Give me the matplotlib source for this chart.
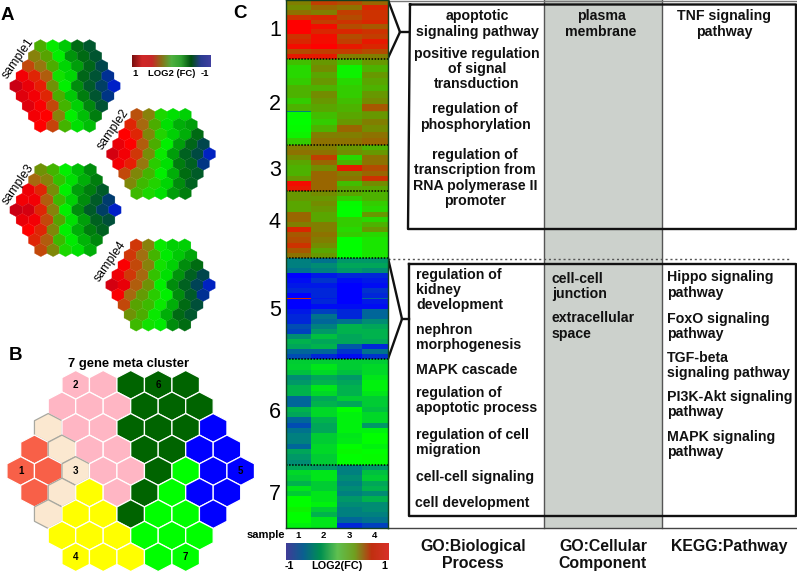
import matplotlib
matplotlib.use('Agg')
import matplotlib.pyplot as plt
import numpy as np
from matplotlib.collections import PolyCollection
from matplotlib.colors import LinearSegmentedColormap

plt.rcParams['font.family'] = ['Liberation Sans', 'DejaVu Sans']

# Panel A, hexagon values per map row
sample1 = [[.22, .02, -.12, -.42, -.58],
           [.35, .25, 0, -.28, -.42, -.6],
           [.5, .38, .22, -.08, -.25, -.45, -.72],
           [.75, .6, .45, .05, -.08, -.45, -.62, -.88],
           [.95, .8, .62, .3, 0, -.3, -.55, -.78, -1],
           [.85, .75, .6, .22, -.12, -.35, -.6, -.85],
           [.85, .72, .5, .2, -.1, -.32, -.62],
           [.75, .7, .35, 0, -.15, -.35],
           [.7, .52, .2, -.05, -.15]]
sample2 = [[.48, .35, .08, -.05, -.1],
           [.6, .42, .22, -.05, -.2, -.25],
           [.7, .6, .33, .1, -.1, -.2, -.42],
           [.8, .7, .45, .22, 0, -.25, -.45, -.72],
           [.9, .75, .55, .32, .03, -.25, -.5, -.7, -.98],
           [.75, .62, .38, .12, -.05, -.35, -.5, -.85],
           [.5, .33, .2, 0, -.2, -.4, -.55],
           [.33, .18, .1, -.08, -.3, -.5],
           [.18, .08, -.05, -.25, -.35]]
sample3 = [[.3, .2, 0, -.15, -.3],
           [.42, .35, .15, -.05, -.2, -.35],
           [.78, .6, .32, 0, -.25, -.35, -.55],
           [.75, .75, .45, .18, -.1, -.3, -.55, -.8],
           [.95, .9, .6, .35, 0, -.3, -.55, -.78, -1],
           [.8, .75, .5, .25, -.05, -.25, -.5, -.65],
           [.7, .6, .33, 0, -.2, -.35, -.5],
           [.6, .45, .18, -.02, -.18, -.32],
           [.5, .33, .08, -.05, -.2]]
sample4 = [[.55, .35, .02, -.1, -.1],
           [.55, .4, .2, -.02, -.12, -.22],
           [.72, .5, .35, .05, -.1, -.3, -.4],
           [.78, .55, .42, .15, -.05, -.28, -.5, -.72],
           [.9, .8, .45, .3, 0, -.3, -.5, -.75, -.98],
           [.72, .42, .28, .12, 0, -.3, -.55, -.88],
           [.5, .25, .18, .03, -.2, -.42, -.65],
           [.3, .22, .03, -.2, -.42, -.58],
           [.18, .05, -.02, -.3, -.4]]

# Panel B, cluster of each hexagon
meta = ['22666', '222666', '3226665', '13226655', '113226755',
        '13426755', '3446775', '444777', '44477']
meta_labels = {(0, 0): '2', (0, 3): '6', (4, 0): '1', (4, 2): '3', (4, 8): '5', (8, 0): '4', (8, 4): '7'}

# Panel C, heatmap rows per cluster (samples 1-4)
c1 = [[.5, .75, .7, .6], [.45, .6, .55, .85], [.55, .5, .75, .8], [.8, .85, .7, .8],
      [1, .75, .8, .85], [1, .95, .7, .65], [1, .85, .85, .8], [.8, .95, .7, .75],
      [.85, .95, .75, .9], [.95, 1, .9, .85], [.7, .75, .75, .7], [.9, .9, .5, .5]]
c2 = [[.25, .4, .25, .4], [.15, .45, .05, .3], [.15, .35, .05, .4], [.2, .4, .15, .35],
      [.3, .3, .2, .3], [.3, .45, .2, .4], [.2, .4, .25, .45], [.3, .35, .3, .65],
      [-.5, .35, .3, .45], [.02, .25, .35, .4], [0, .2, .4, .5], [.02, .3, .6, .45],
      [.05, .5, .5, .55], [.2, .55, .55, .6]]
c3 = [[.5, .5, .4, .3], [.55, .55, .45, .4], [.45, .75, .15, .55], [.35, .6, .3, .55],
      [.3, .45, .9, .7], [.3, .6, .5, .6], [.4, .6, .55, .8], [.95, .6, .25, .45],
      [.9, .6, .35, .35]]
c4 = [[.4, .45, .35, .3], [.4, .4, .2, .3], [.35, .45, .02, .2], [.35, .4, 0, .15],
      [.6, .35, 0, .4], [.6, .35, .2, .15], [.5, .5, .2, .3], [.85, .5, .15, .4],
      [.65, .55, .2, .15], [.7, .5, 0, .1], [.8, .45, 0, .1], [.65, .35, 0, .1],
      [.55, .4, 0, .1]]
c5 = [[-.5, -.55, -.4, -.4], [-.5, -.45, -.35, -.35], [-.55, -.5, -.4, -.45],
      [-1, -.9, -.85, -.85], [-.95, -.8, -.95, -.9], [-.9, -.9, -1, -.95],
      [-.85, -.85, -1, -.8], [-1, -.85, -1, -.85], [.8, -.9, -1, -.6],
      [-1, -.85, -1, -.9], [-1, -.95, -.95, -.95], [-.9, -.75, -.85, -.6],
      [-.85, -.55, -.85, -.6], [-.85, -.6, -.55, -.45], [-.7, -.5, -.3, -.35],
      [-.75, -.4, -.3, -.3], [-.45, -.25, -.35, -.3], [-.3, -.35, -.35, -.35],
      [-.35, -.3, -.65, -.85], [-.6, -.6, -.8, -.55], [-.7, -.85, -.95, -.8]]
c6 = [[-.2, -.2, -.2, -.2], [-.18, -.1, -.2, -.15], [-.25, -.15, -.25, -.15],
      [-.45, -.35, -.4, -.1], [-.4, -.3, -.35, -.05], [-.3, -.1, -.3, -.05],
      [-.3, -.15, -.3, -.1], [-.6, -.35, -.2, -.2], [-.6, -.3, -.35, -.2],
      [-.3, -.15, 0, -.25], [-.35, -.15, -.05, -.15], [-.6, -.3, -.05, -.15],
      [-.7, -.35, -.05, -.4], [-.55, -.35, -.05, -.05], [-.5, -.2, -.1, 0],
      [-.5, -.2, -.08, 0], [-.6, -.15, 0, -.05], [-.35, -.15, .03, 0],
      [-.4, -.2, 0, .02], [-.45, -.2, 0, 0]]
c7 = [[-.35, -.4, -.5, -.4], [-.15, -.1, -.5, -.25], [-.2, -.1, -.45, -.2],
      [-.3, -.2, -.5, -.35], [-.1, -.2, -.45, -.3], [-.2, -.1, -.5, -.45],
      [0, -.1, -.4, -.3], [0, -.05, -.45, -.45], [.05, -.2, -.5, -.45],
      [0, -.3, -.5, -.5], [0, -.1, -.6, -.55], [-.05, -.1, -.85, -.75]]
clusters = [c1, c2, c3, c4, c5, c6, c7]
cluster_px = [58.5, 86.5, 46, 67, 101, 106, 63]
# thin rows in the heatmap: (cluster, row) -> share of a normal row
thin_rows = {(1, 8): .3, (4, 8): .3}
cluster_names = ['1', '2', '3', '4', '5', '6', '7']
cluster_label_y = [30, 105, 170, 223, 310, 412, 495]
heat_samples = ['1', '2', '3', '4']

hex_cmap = LinearSegmentedColormap.from_list('hex', [
    (0.0, '#0020c8'), (0.15, '#004a40'), (0.3, '#006c10'), (0.5, '#00f000'),
    (0.62, '#50a800'), (0.7, '#a07010'), (0.85, '#ff0000'), (1.0, '#c00018')])
heat_cmap = LinearSegmentedColormap.from_list('heat', ['#0000ff', '#00ff00', '#ff0000'])
bar_a = LinearSegmentedColormap.from_list('bar_a', [
    '#7a1010', '#d02828', '#c82828', '#8a7018', '#50b040', '#30a030', '#005010', '#2a3c90', '#4040a0'])
bar_c = LinearSegmentedColormap.from_list('bar_c', [
    '#403c98', '#0a6090', '#009050', '#60c050', '#70a020', '#c03010', '#d83028'])
meta_colors = {'1': '#f86048', '2': '#ffb6c4', '3': '#fbe8d0', '4': '#ffff00',
               '5': '#0000ff', '6': '#006400', '7': '#00ff00'}
W, H = 797, 573

fig = plt.figure(figsize=(W / 100, H / 100), dpi=100)
ax = fig.add_axes([0, 0, 1, 1])
ax.set_xlim(0, W)
ax.set_ylim(H, 0)
ax.axis('off')


def hex_cells(rows, cx, cy, dx, dy):
    # centres come from the row lengths only, 9 rows with 5..9..5 cells
    verts = []
    r = dy / 1.5
    for i, row in enumerate(rows):
        y = cy + (i - 4) * dy
        for j in range(len(row)):
            x = cx + (j - (len(row) - 1) / 2) * dx
            verts.append([(x, y - r), (x + dx / 2, y - r / 2), (x + dx / 2, y + r / 2),
                          (x, y + r), (x - dx / 2, y + r / 2), (x - dx / 2, y - r / 2)])
    return verts


def draw_sample(vals, cx, cy, dx, dy):
    v = [x for row in vals for x in row]
    pc = PolyCollection(hex_cells(vals, cx, cy, dx, dy), array=np.array(v), cmap=hex_cmap,
                        clim=(-1, 1), edgecolors='face', linewidths=.2)
    ax.add_collection(pc)


# panel A
draw_sample(sample1, 65, 86, 12.25, 9.95)
draw_sample(sample2, 161, 154, 12.1, 9.8)
draw_sample(sample3, 65.5, 210, 12.35, 10)
draw_sample(sample4, 160.5, 285, 12.15, 9.9)
for s, x, y in [('sample1', 18, 58), ('sample2', 113, 129), ('sample3', 18.5, 184), ('sample4', 110.5, 261)]:
    ax.text(x, y, s, fontsize=8.8, rotation=55, ha='center', va='center', rotation_mode='anchor')
ax.imshow(np.linspace(0, 1, 200)[None, :], cmap=bar_a, extent=(132, 211, 67, 55), aspect='auto', zorder=2)
ax.text(135, 73.5, '1', fontsize=6.8, fontweight='bold', ha='center', va='center')
ax.text(172, 73.5, 'LOG2 (FC)', fontsize=6.8, fontweight='bold', ha='center', va='center')
ax.text(205, 73.5, '-1', fontsize=6.8, fontweight='bold', ha='center', va='center')

# panel B
cols = [meta_colors[c] for row in meta for c in row]
edges = ['#a8a8a0' if c == '3' else '#ffffff' for row in meta for c in row]
ax.add_collection(PolyCollection(hex_cells(meta, 130.7, 471, 27.5, 21.55), facecolors=cols,
                                 edgecolors=edges, linewidths=.9))
for (i, j), s in meta_labels.items():
    x = 130.7 + (j - (len(meta[i]) - 1) / 2) * 27.5
    ax.text(x, 471 + (i - 4) * 21.55, s, fontsize=7, fontweight='bold', ha='center', va='center')
ax.text(129, 364, '7 gene meta cluster', fontsize=9.4, fontweight='bold', ha='center', va='center')

# letters
ax.text(7, 16, 'A', fontsize=13.5, fontweight='bold', ha='center', va='center')
ax.text(16, 355, 'B', fontsize=13.5, fontweight='bold', ha='center', va='center')
ax.text(240, 14, 'C', fontsize=13.5, fontweight='bold', ha='center', va='center')

# grey column and frames behind the text
ax.fill_between([544, 662.5], 0, 527.5, color='#ccd1cc', lw=0, zorder=0)
for x in (544, 662.5):
    ax.plot([x, x], [0, 527.5], color='#555555', lw=1, zorder=1)
ax.plot([388, W], [527.5, 527.5], color='#444444', lw=1, zorder=1)
ax.plot([388, W], [.5, .5], color='#777777', lw=1, zorder=1)
ax.plot([388, 790], [258.5, 258.5], color='#555555', lw=1, ls=(0, (1.5, 2)), zorder=1)
ax.plot([410, 408, 796, 796, 410], [4.5, 229, 229, 4.5, 4.5], color='#111111', lw=1.7, zorder=3)
ax.plot([409, 409, 796, 796, 409], [264, 515.5, 515.5, 264, 264], color='#111111', lw=1.7, zorder=3)
ax.plot([388, 400, 388], [0, 32, 58], color='#111111', lw=1.7, zorder=3)
ax.plot([400, 408], [32, 32], color='#111111', lw=1.7, zorder=3)
ax.plot([388, 402, 388], [258, 319, 359], color='#111111', lw=1.7, zorder=3)
ax.plot([402, 409], [319, 319], color='#111111', lw=1.7, zorder=3)

# panel C heatmap
rows_all = [r for c in clusters for r in c]
edges_y = [0.0]
boundaries = []
for k, c in enumerate(clusters):
    weights = [thin_rows.get((k, i), 1) for i in range(len(c))]
    unit = cluster_px[k] / sum(weights)
    for w in weights:
        edges_y.append(edges_y[-1] + w * unit)
    boundaries.append(edges_y[-1])
heat_h = edges_y[-1]
ax_h = fig.add_axes([285.5 / W, 1 - heat_h / H, 102 / W, heat_h / H])
ax_h.pcolormesh(np.arange(5), edges_y, np.array(rows_all), cmap=heat_cmap, vmin=-1, vmax=1)
ax_h.set_ylim(heat_h, 0)
for b in boundaries[:-1]:
    ax_h.axhline(b, color='black', lw=1.1, ls=(0, (1, 1)))
ax_h.set_yticks([])
ax_h.set_xticks(np.arange(4) + .5, heat_samples, fontsize=6.8, fontweight='bold')
ax_h.tick_params(axis='x', length=0, pad=2.5)
for sp in ax_h.spines.values():
    sp.set_color('#14401e')
    sp.set_linewidth(1)
for name, y in zip(cluster_names, cluster_label_y):
    ax.text(275, y, name, fontsize=15.5, ha='center', va='center')
ax.text(266, 534.5, 'sample', fontsize=8, fontweight='bold', ha='center', va='center')

ax.imshow(np.linspace(0, 1, 200)[None, :], cmap=bar_c, extent=(286, 389, 560, 543), aspect='auto', zorder=2)
ax.text(289.5, 566, '-1', fontsize=7.8, fontweight='bold', ha='center', va='center')
ax.text(337, 566, 'LOG2(FC)', fontsize=7.8, fontweight='bold', ha='center', va='center')
ax.text(384, 566, '1', fontsize=7.8, fontweight='bold', ha='center', va='center')
ax.set_xlim(0, W)
ax.set_ylim(H, 0)

# enrichment text
center_terms = [('apoptotic\nsignaling pathway', 477, 24), ('positive regulation\nof signal\ntransduction', 477, 69),
                ('regulation of\nphosphorylation', 475, 117),
                ('regulation of\ntranscription from\nRNA polymerase II\npromoter', 475, 178),
                ('plasma\nmembrane', 601, 24), ('TNF signaling\npathway', 724, 24)]
left_terms = [('regulation of\nkidney\ndevelopment', 416, 290), ('nephron\nmorphogenesis', 416, 337.5),
              ('MAPK cascade', 416, 369.5), ('regulation of\napoptotic process', 416, 400.5),
              ('regulation of cell\nmigration', 416, 442.5), ('cell-cell signaling', 416, 476.5),
              ('cell development', 415.5, 503.5), ('cell-cell\njunction', 552, 286.5),
              ('extracellular\nspace', 552, 326), ('Hippo signaling\npathway', 667, 285),
              ('FoxO signaling\npathway', 667, 326.5), ('TGF-beta\nsignaling pathway', 667, 365.5),
              ('PI3K-Akt signaling\npathway', 667, 404.5), ('MAPK signaling\npathway', 667, 444.5)]
for s, x, y in center_terms:
    ax.text(x, y, s, fontsize=10.2, fontweight='bold', ha='center', va='center', linespacing=1.1,
            multialignment='center', color='#111111', zorder=4)
for s, x, y in left_terms:
    ax.text(x, y, s, fontsize=10.2, fontweight='bold', ha='left', va='center', linespacing=1.1,
            color='#111111', zorder=4)
for s, x, y in [('GO:Biological\nProcess', 473, 555), ('GO:Cellular\nComponent', 603, 555), ('KEGG:Pathway', 729, 547)]:
    ax.text(x, y, s, fontsize=11.4, fontweight='bold', ha='center', va='center', linespacing=1.15, color='#111111')

fig.savefig('out.png', dpi=100)
